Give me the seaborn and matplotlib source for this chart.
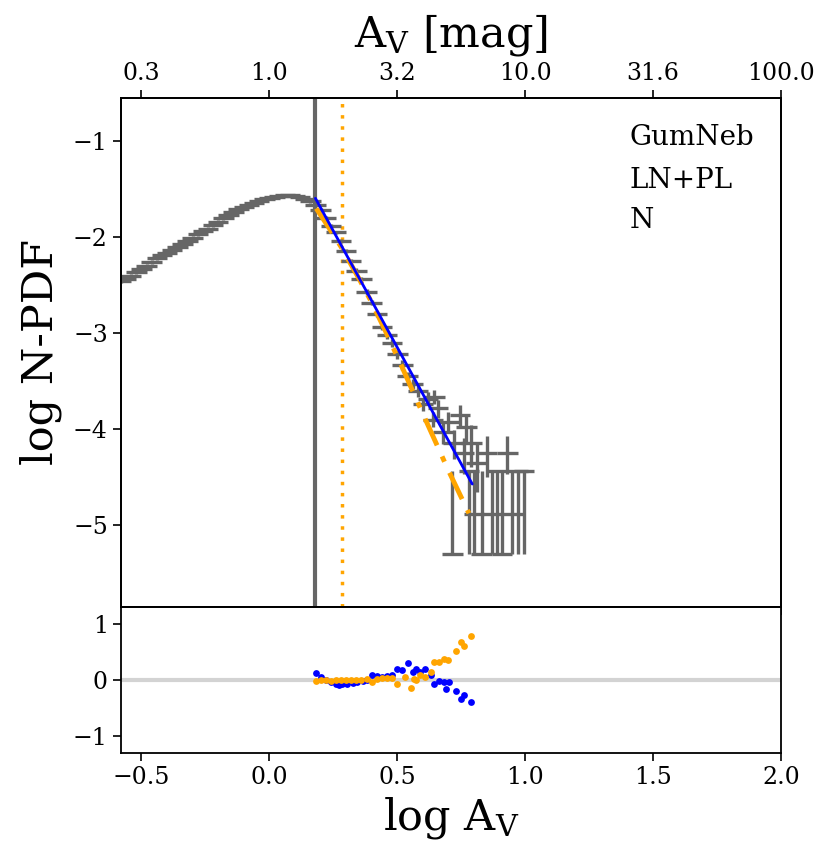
import numpy as np
import pandas as pd
import matplotlib
matplotlib.use("Agg")
import matplotlib.pyplot as plt
import seaborn as sns

# ---------------- data ----------------
# log A_V bin centres and log N-PDF values
log_av = [-0.58, -0.56, -0.54, -0.52, -0.50, -0.48, -0.46, -0.44, -0.42, -0.40,
          -0.38, -0.36, -0.34, -0.32, -0.30, -0.28, -0.26, -0.24, -0.22, -0.20,
          -0.18, -0.16, -0.14, -0.12, -0.10, -0.08, -0.06, -0.04, -0.02, 0.00,
          0.02, 0.04, 0.06, 0.08, 0.10, 0.12, 0.14, 0.16, 0.18, 0.20,
          0.22, 0.24, 0.26, 0.28, 0.30, 0.32, 0.34, 0.36, 0.38, 0.40,
          0.42, 0.44, 0.46, 0.48, 0.50, 0.52, 0.54, 0.56, 0.58, 0.60,
          0.62, 0.64, 0.645, 0.66, 0.68, 0.70, 0.715, 0.72, 0.745, 0.76,
          0.77, 0.78, 0.79, 0.80, 0.81, 0.83, 0.85, 0.87, 0.89, 0.91,
          0.93, 0.95, 0.97, 0.995]
log_pdf = [-2.46, -2.43, -2.40, -2.36, -2.33, -2.30, -2.26, -2.22, -2.19, -2.16,
           -2.13, -2.10, -2.07, -2.04, -2.01, -1.97, -1.94, -1.91, -1.87, -1.84,
           -1.80, -1.77, -1.74, -1.71, -1.69, -1.66, -1.64, -1.62, -1.60, -1.59,
           -1.58, -1.57, -1.565, -1.565, -1.57, -1.58, -1.60, -1.62, -1.66, -1.72,
           -1.80, -1.88, -1.95, -2.04, -2.14, -2.25, -2.35, -2.44, -2.57, -2.68,
           -2.80, -2.93, -3.02, -3.10, -3.22, -3.33, -3.45, -3.53, -3.60, -3.74,
           -3.68, -3.90, -3.66, -3.78, -4.03, -3.92, -5.30, -4.14, -3.85, -4.25,
           -3.98, -4.43, -4.14, -4.88, -4.35, -5.30, -4.25, -4.88, -4.43, -5.30,
           -4.25, -4.88, -4.43, -4.43]
err_lo = [0.02, 0.02, 0.02, 0.02, 0.02, 0.02, 0.02, 0.02, 0.02, 0.02,
          0.02, 0.02, 0.02, 0.02, 0.02, 0.02, 0.02, 0.02, 0.02, 0.02,
          0.02, 0.02, 0.02, 0.02, 0.02, 0.02, 0.02, 0.02, 0.02, 0.02,
          0.02, 0.02, 0.02, 0.02, 0.02, 0.02, 0.02, 0.02, 0.02, 0.02,
          0.02, 0.02, 0.02, 0.02, 0.02, 0.02, 0.025, 0.025, 0.03, 0.03,
          0.035, 0.035, 0.04, 0.04, 0.045, 0.05, 0.05, 0.055, 0.06, 0.07,
          0.07, 0.08, 0.08, 0.10, 0.12, 0.12, 0.0, 0.17, 0.12, 0.22,
          0.16, 0.87, 0.25, 0.42, 0.30, 0.0, 0.25, 0.42, 0.87, 0.0,
          0.22, 0.42, 0.87, 0.87]
err_hi = [0.02, 0.02, 0.02, 0.02, 0.02, 0.02, 0.02, 0.02, 0.02, 0.02,
          0.02, 0.02, 0.02, 0.02, 0.02, 0.02, 0.02, 0.02, 0.02, 0.02,
          0.02, 0.02, 0.02, 0.02, 0.02, 0.02, 0.02, 0.02, 0.02, 0.02,
          0.02, 0.02, 0.02, 0.02, 0.02, 0.02, 0.02, 0.02, 0.02, 0.02,
          0.02, 0.02, 0.02, 0.02, 0.02, 0.02, 0.025, 0.025, 0.03, 0.03,
          0.035, 0.035, 0.04, 0.04, 0.045, 0.05, 0.05, 0.055, 0.06, 0.07,
          0.07, 0.08, 0.07, 0.09, 0.10, 0.10, 0.87, 0.13, 0.10, 0.16,
          0.12, 0.0, 0.18, 0.45, 0.20, 0.87, 0.18, 0.45, 0.0, 0.87,
          0.18, 0.45, 0.0, 0.0]
bin_halfwidth = 0.04

# power-law fit (blue) and log-normal + power-law fit (orange)
pl_x = [0.18, 0.793]
pl_y = [-1.595, -4.57]
ln_x = [0.183, 0.23, 0.28, 0.35, 0.40, 0.456, 0.52, 0.56, 0.612, 0.70, 0.78]
ln_y = [-1.70, -1.89, -2.10, -2.43, -2.68, -2.99, -3.36, -3.60, -3.91, -4.43, -4.875]

# vertical markers
av_threshold = 0.18
av_transition = 0.285

# residuals
res_pl_x = [0.182, 0.20, 0.22, 0.24, 0.26, 0.273, 0.285, 0.305, 0.325, 0.344,
            0.364, 0.383, 0.40, 0.42, 0.44, 0.46, 0.48, 0.50, 0.52, 0.54,
            0.56, 0.574, 0.59, 0.61, 0.63, 0.645, 0.664, 0.684, 0.69, 0.703,
            0.73, 0.75, 0.762, 0.789]
res_pl_y = [0.12, 0.05, 0.0, -0.04, -0.07, -0.09, -0.08, -0.07, -0.05, -0.04,
            -0.02, 0.0, 0.08, 0.065, 0.05, 0.065, 0.08, 0.20, 0.17, 0.30,
            0.15, 0.20, 0.14, 0.20, 0.08, -0.07, -0.01, -0.03, -0.16, -0.04,
            -0.19, -0.34, -0.27, -0.40]
res_ln_x = [0.182, 0.20, 0.22, 0.24, 0.26, 0.28, 0.30, 0.32, 0.34, 0.36,
            0.38, 0.40, 0.42, 0.44, 0.46, 0.48, 0.50, 0.53, 0.555, 0.565,
            0.575, 0.59, 0.61, 0.63, 0.645, 0.664, 0.684, 0.70, 0.73, 0.75,
            0.76, 0.789]
res_ln_y = [-0.01, 0.0, 0.0, -0.01, 0.0, 0.0, 0.0, 0.0, 0.0, 0.0,
            0.01, -0.04, 0.02, 0.03, 0.04, 0.03, -0.07, 0.05, -0.15, 0.02,
            0.0, 0.08, 0.05, 0.15, 0.32, 0.32, 0.38, 0.36, 0.52, 0.67,
            0.61, 0.78]

top_tick_pos = [-0.5, 0.0, 0.5, 1.0, 1.5, 2.0]
top_tick_labels = ['0.3', '1.0', '3.2', '10.0', '31.6', '100.0']
bottom_ticks = [-0.5, 0.0, 0.5, 1.0, 1.5, 2.0]
main_yticks = [-1, -2, -3, -4, -5]
res_yticks = [1, 0, -1]
labels = ['GumNeb', 'LN+PL', 'N']

# ---------------- style ----------------
sns.set_style("ticks")
plt.rcParams['font.family'] = ['DejaVu Serif']
plt.rcParams['mathtext.fontset'] = 'dejavuserif'
plt.rcParams['text.color'] = 'black'
plt.rcParams['axes.labelcolor'] = 'black'
plt.rcParams['axes.linewidth'] = 1.3
plt.rcParams['xtick.major.width'] = 1.2
plt.rcParams['ytick.major.width'] = 1.2
plt.rcParams['xtick.major.size'] = 6
plt.rcParams['ytick.major.size'] = 6
plt.rcParams['xtick.color'] = 'black'
plt.rcParams['ytick.color'] = 'black'
plt.rcParams['axes.edgecolor'] = 'black'

fig = plt.figure(figsize=(8.3, 8.64), dpi=100)
ax = fig.add_axes([0.1458, 0.2975, 0.7952, 0.5891])
axr = fig.add_axes([0.1458, 0.1285, 0.7952, 0.1690])

xlim = (-0.58, 2.0)

# data with error bars
ax.errorbar(log_av, log_pdf, xerr=bin_halfwidth, yerr=[err_lo, err_hi],
            fmt='none', ecolor='#666666', elinewidth=2.4, capsize=0, zorder=2)

ax.axvline(av_threshold, color='#666666', lw=3, zorder=1)
ax.axvline(av_transition, color='orange', lw=2.5, ls=(0, (1, 2.2)), zorder=1)

df_pl = pd.DataFrame({'x': pl_x, 'y': pl_y})
df_ln = pd.DataFrame({'x': ln_x, 'y': ln_y})
sns.lineplot(data=df_ln, x='x', y='y', ax=ax, color='orange', lw=3.5,
             sort=False, zorder=3)
ax.lines[-1].set_dashes([6, 2.5, 1.2, 2.5])
sns.lineplot(data=df_pl, x='x', y='y', ax=ax, color='blue', lw=2,
             sort=False, zorder=4)

ax.set_xlim(*xlim)
ax.set_ylim(-5.85, -0.55)
ax.set_xticks(bottom_ticks)
ax.set_xticklabels([])
ax.set_yticks(main_yticks)
ax.tick_params(axis='both', labelsize=17, direction='out', colors='black')
ax.set_xlabel('')
ax.set_ylabel('log N-PDF', fontsize=31, labelpad=8)

for i, t in enumerate(labels):
    ax.text(0.771, [0.9077, 0.823, 0.745][i], t, transform=ax.transAxes,
            fontsize=20, va='baseline', ha='left', color='black')

# top axis
ax2 = ax.twiny()
ax2.set_xlim(*xlim)
ax2.set_xticks(top_tick_pos)
ax2.set_xticklabels(top_tick_labels)
ax2.tick_params(axis='x', labelsize=17, direction='out', colors='black')
ax2.set_xlabel(r'$\mathrm{A_V}$ [mag]', fontsize=31, labelpad=11)

# residual panel
axr.axhline(0, color='lightgrey', lw=3, zorder=1)
df_rpl = pd.DataFrame({'x': res_pl_x, 'y': res_pl_y})
df_rln = pd.DataFrame({'x': res_ln_x, 'y': res_ln_y})
sns.scatterplot(data=df_rpl, x='x', y='y', ax=axr, color='blue', s=24,
                linewidth=0, zorder=2)
sns.scatterplot(data=df_rln, x='x', y='y', ax=axr, color='orange', s=24,
                linewidth=0, zorder=3)
axr.set_xlim(*xlim)
axr.set_ylim(-1.3, 1.3)
axr.set_xticks(bottom_ticks)
axr.set_yticks(res_yticks)
axr.tick_params(axis='both', labelsize=17, direction='out', colors='black')
axr.set_xlabel(r'log $\mathrm{A_V}$', fontsize=31)
axr.set_ylabel('')

for a in (ax, axr, ax2):
    for s in a.spines.values():
        s.set_visible(True)
        s.set_linewidth(1.3)
        s.set_color('black')

fig.savefig('out.png', dpi=100)
